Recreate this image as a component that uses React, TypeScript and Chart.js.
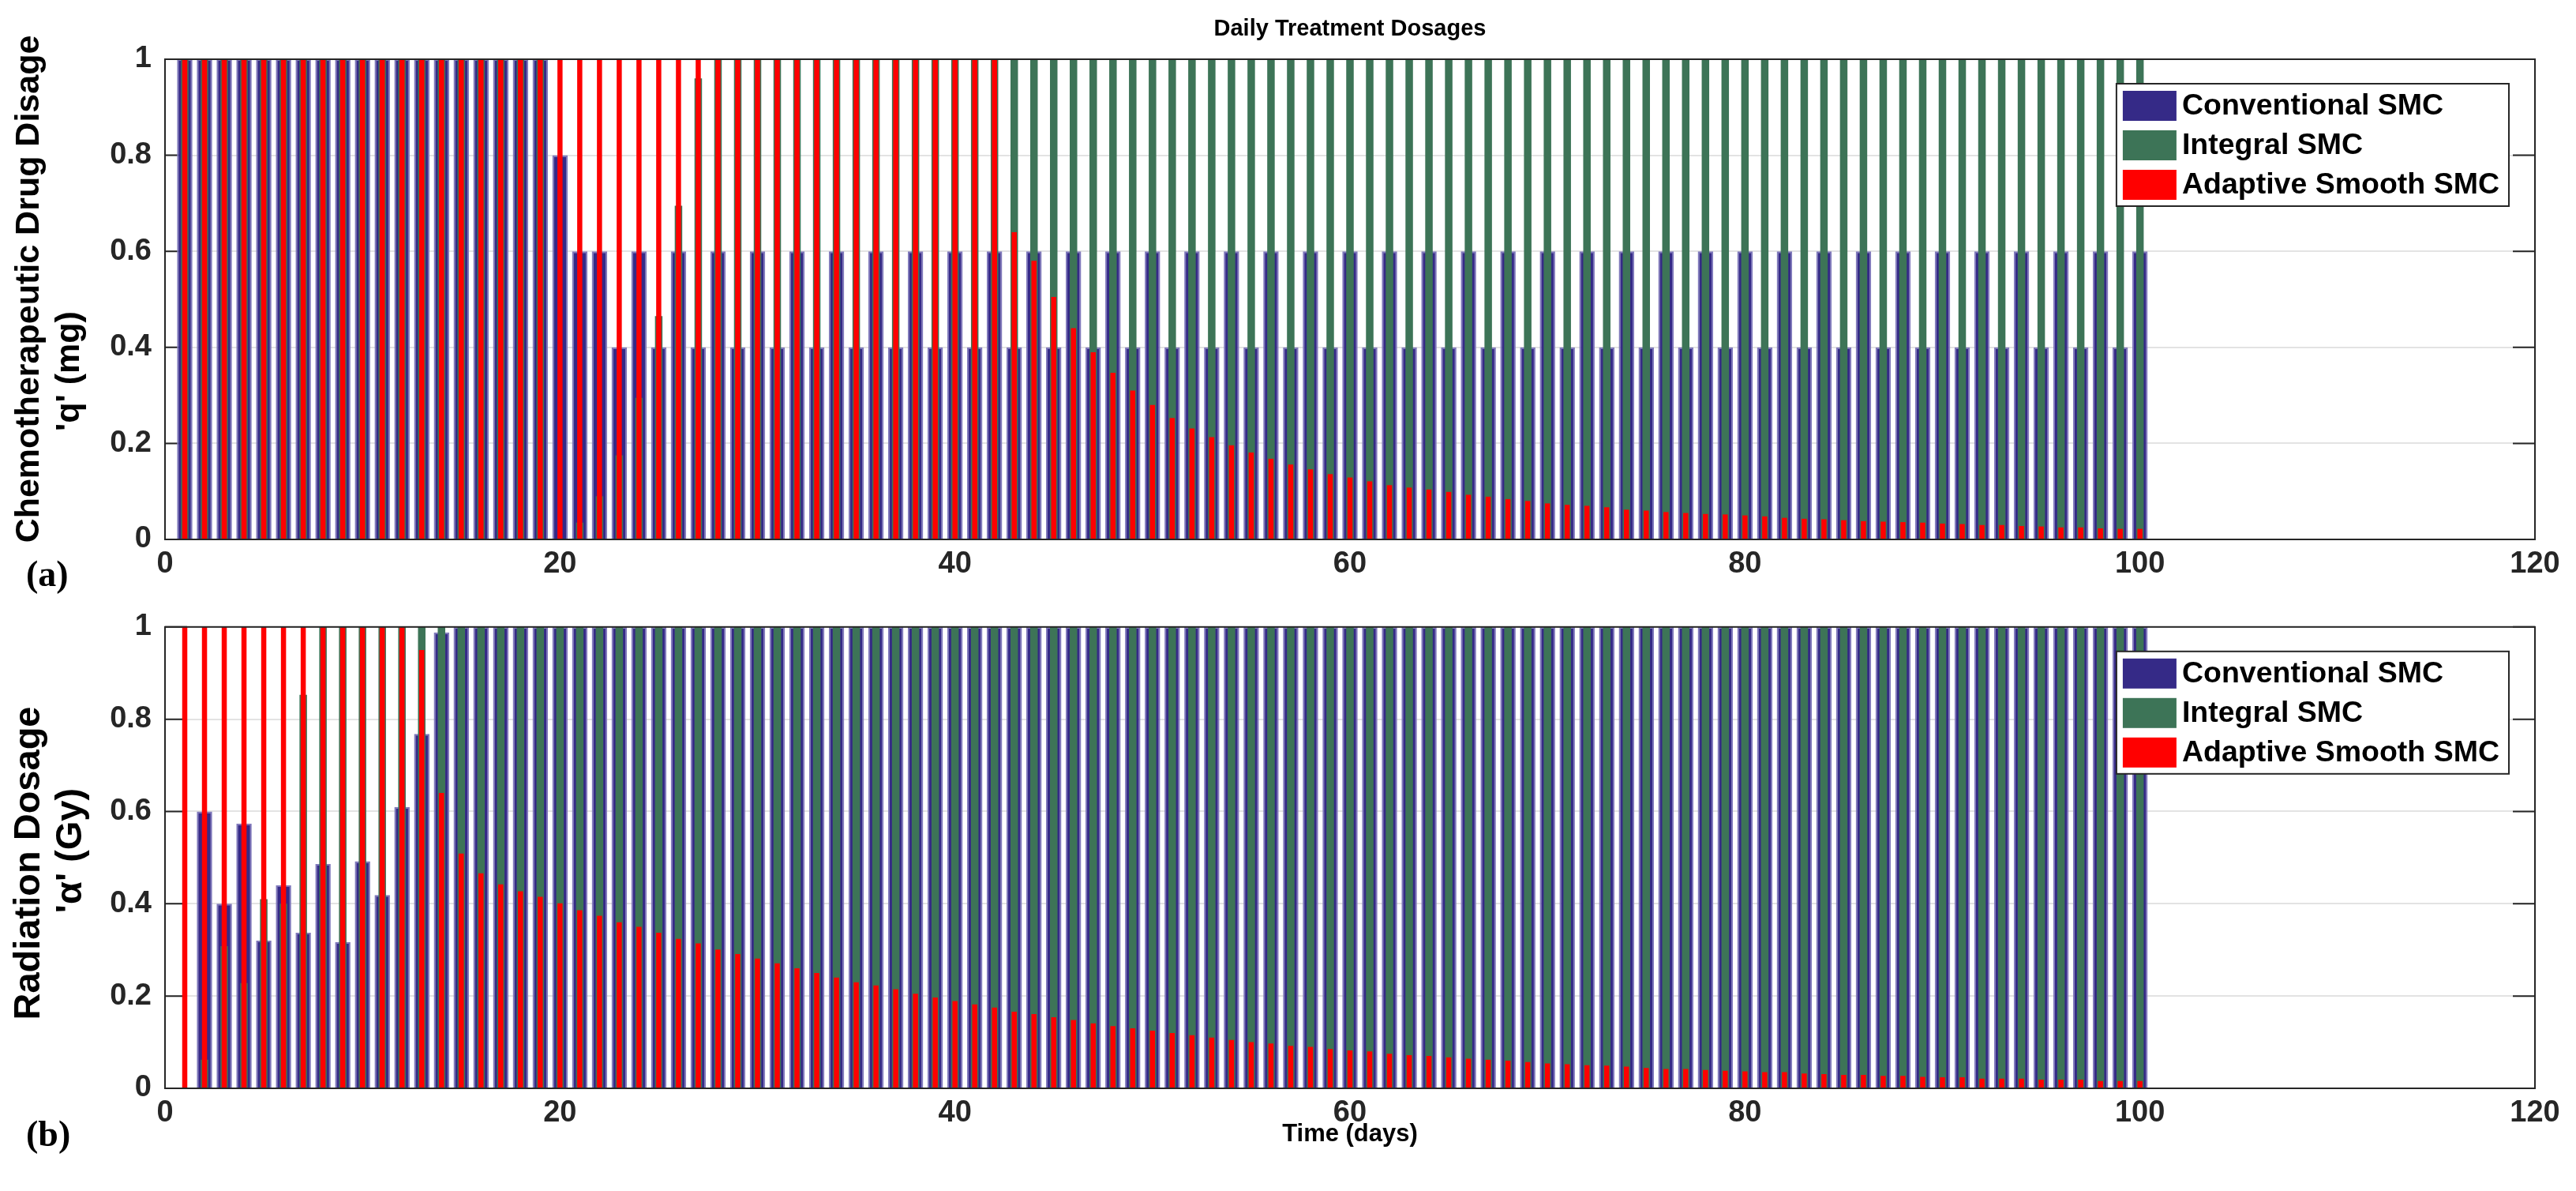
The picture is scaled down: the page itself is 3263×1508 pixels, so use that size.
import { useEffect, useRef } from "react"
import { Chart, registerables } from "chart.js"
import type { Plugin } from "chart.js"

Chart.register(...registerables)

const FONT = "'Liberation Sans', Arial, Helvetica, sans-serif"
const SERIF = "'Liberation Serif', 'Times New Roman', serif"
const AXIS_COLOR = "#262626"

const days = [
  1, 2, 3, 4, 5, 6, 7, 8, 9, 10,
  11, 12, 13, 14, 15, 16, 17, 18, 19, 20,
  21, 22, 23, 24, 25, 26, 27, 28, 29, 30,
  31, 32, 33, 34, 35, 36, 37, 38, 39, 40,
  41, 42, 43, 44, 45, 46, 47, 48, 49, 50,
  51, 52, 53, 54, 55, 56, 57, 58, 59, 60,
  61, 62, 63, 64, 65, 66, 67, 68, 69, 70,
  71, 72, 73, 74, 75, 76, 77, 78, 79, 80,
  81, 82, 83, 84, 85, 86, 87, 88, 89, 90,
  91, 92, 93, 94, 95, 96, 97, 98, 99, 100,
]

// (a) chemotherapeutic drug dosage q (mg), one value per day
const conventionalQ = [
  1, 1, 1, 1, 1, 1, 1, 1, 1, 1,
  1, 1, 1, 1, 1, 1, 1, 1, 1, 0.8,
  0.6, 0.6, 0.4, 0.6, 0.4, 0.6, 0.4, 0.6, 0.4, 0.6,
  0.4, 0.6, 0.4, 0.6, 0.4, 0.6, 0.4, 0.6, 0.4, 0.6,
  0.4, 0.6, 0.4, 0.6, 0.4, 0.6, 0.4, 0.6, 0.4, 0.6,
  0.4, 0.6, 0.4, 0.6, 0.4, 0.6, 0.4, 0.6, 0.4, 0.6,
  0.4, 0.6, 0.4, 0.6, 0.4, 0.6, 0.4, 0.6, 0.4, 0.6,
  0.4, 0.6, 0.4, 0.6, 0.4, 0.6, 0.4, 0.6, 0.4, 0.6,
  0.4, 0.6, 0.4, 0.6, 0.4, 0.6, 0.4, 0.6, 0.4, 0.6,
  0.4, 0.6, 0.4, 0.6, 0.4, 0.6, 0.4, 0.6, 0.4, 0.6,
]
const integralQ = [
  1, 1, 1, 1, 1, 1, 1, 1, 1, 1,
  1, 1, 1, 1, 1, 1, 1, 1, 1, 0,
  0.035, 0.09, 0.175, 0.295, 0.465, 0.695, 0.96, 1, 1, 1,
  1, 1, 1, 1, 1, 1, 1, 1, 1, 1,
  1, 1, 1, 1, 1, 1, 1, 1, 1, 1,
  1, 1, 1, 1, 1, 1, 1, 1, 1, 1,
  1, 1, 1, 1, 1, 1, 1, 1, 1, 1,
  1, 1, 1, 1, 1, 1, 1, 1, 1, 1,
  1, 1, 1, 1, 1, 1, 1, 1, 1, 1,
  1, 1, 1, 1, 1, 1, 1, 1, 1, 1,
]
const adaptiveQ = [
  1, 1, 1, 1, 1, 1, 1, 1, 1, 1,
  1, 1, 1, 1, 1, 1, 1, 1, 1, 1,
  1, 1, 1, 1, 1, 1, 1, 1, 1, 1,
  1, 1, 1, 1, 1, 1, 1, 1, 1, 1,
  1, 1, 0.64, 0.58, 0.505, 0.44, 0.39, 0.347, 0.31, 0.28,
  0.253, 0.231, 0.213, 0.196, 0.181, 0.168, 0.156, 0.146, 0.136, 0.129,
  0.121, 0.113, 0.108, 0.104, 0.099, 0.093, 0.089, 0.084, 0.08, 0.075,
  0.072, 0.07, 0.067, 0.062, 0.06, 0.057, 0.055, 0.053, 0.052, 0.05,
  0.048, 0.045, 0.043, 0.042, 0.04, 0.038, 0.037, 0.036, 0.035, 0.033,
  0.032, 0.03, 0.03, 0.028, 0.027, 0.025, 0.025, 0.023, 0.022, 0.022,
]

// (b) radiation dosage alpha (Gy), one value per day
const conventionalAlpha = [
  0, 0.6, 0.4, 0.574, 0.32, 0.44, 0.337, 0.486, 0.317, 0.492,
  0.419, 0.61, 0.768, 0.988, 1, 1, 1, 1, 1, 1,
  1, 1, 1, 1, 1, 1, 1, 1, 1, 1,
  1, 1, 1, 1, 1, 1, 1, 1, 1, 1,
  1, 1, 1, 1, 1, 1, 1, 1, 1, 1,
  1, 1, 1, 1, 1, 1, 1, 1, 1, 1,
  1, 1, 1, 1, 1, 1, 1, 1, 1, 1,
  1, 1, 1, 1, 1, 1, 1, 1, 1, 1,
  1, 1, 1, 1, 1, 1, 1, 1, 1, 1,
  1, 1, 1, 1, 1, 1, 1, 1, 1, 1,
]
const integralAlpha = [
  0, 0.062, 0.308, 0.228, 0.41, 0.4, 0.853, 1, 1, 1,
  1, 1, 1, 1, 1, 1, 1, 1, 1, 1,
  1, 1, 1, 1, 1, 1, 1, 1, 1, 1,
  1, 1, 1, 1, 1, 1, 1, 1, 1, 1,
  1, 1, 1, 1, 1, 1, 1, 1, 1, 1,
  1, 1, 1, 1, 1, 1, 1, 1, 1, 1,
  1, 1, 1, 1, 1, 1, 1, 1, 1, 1,
  1, 1, 1, 1, 1, 1, 1, 1, 1, 1,
  1, 1, 1, 1, 1, 1, 1, 1, 1, 1,
  1, 1, 1, 1, 1, 1, 1, 1, 1, 1,
]
const adaptiveAlpha = [
  1, 1, 1, 1, 1, 1, 1, 1, 1, 1,
  1, 1, 0.95, 0.64, 0.509, 0.466, 0.442, 0.427, 0.415, 0.401,
  0.386, 0.374, 0.36, 0.35, 0.337, 0.324, 0.314, 0.301, 0.291, 0.281,
  0.271, 0.26, 0.25, 0.24, 0.23, 0.223, 0.215, 0.205, 0.197, 0.189,
  0.182, 0.175, 0.166, 0.161, 0.154, 0.148, 0.141, 0.135, 0.13, 0.125,
  0.12, 0.115, 0.11, 0.105, 0.1, 0.097, 0.092, 0.09, 0.085, 0.082,
  0.08, 0.075, 0.072, 0.07, 0.067, 0.064, 0.062, 0.06, 0.057, 0.054,
  0.052, 0.05, 0.049, 0.047, 0.044, 0.042, 0.042, 0.04, 0.038, 0.037,
  0.035, 0.035, 0.032, 0.031, 0.029, 0.029, 0.027, 0.027, 0.025, 0.024,
  0.024, 0.021, 0.021, 0.021, 0.019, 0.019, 0.019, 0.016, 0.016, 0.016,
]

const seriesNames = ["Conventional SMC", "Integral SMC", "Adaptive Smooth SMC"]
const seriesColors = ["#352a87", "#3d7457", "#ff0000"]
const seriesEdges = ["#7f78bb", "#3d7457", "#ff0000"]
const edgeWidths = [2, 0, 0]
const barShare = [0.78, 0.38, 0.26] // share of one day taken by each bar
const drawOrder = [3, 2, 1] // red in front, blue at the back
const xTicks = [0, 20, 40, 60, 80, 100, 120]
const yTicks = [0, 0.2, 0.4, 0.6, 0.8, 1]

// MATLAB style: ticks pointing inward on all four sides, box drawn over the bars
const matlabAxes: Plugin<"bar"> = {
  id: "matlabAxes",
  beforeDatasetsDraw(chart) {
    const { ctx, chartArea: a, scales } = chart
    const len = 28
    ctx.save()
    ctx.strokeStyle = AXIS_COLOR
    ctx.lineWidth = 2
    ctx.beginPath()
    for (const t of scales.y.ticks) {
      const y = scales.y.getPixelForValue(t.value)
      ctx.moveTo(a.left, y)
      ctx.lineTo(a.left + len, y)
      ctx.moveTo(a.right, y)
      ctx.lineTo(a.right - len, y)
    }
    for (const t of scales.x.ticks) {
      const x = scales.x.getPixelForValue(t.value)
      ctx.moveTo(x, a.bottom)
      ctx.lineTo(x, a.bottom - len)
      ctx.moveTo(x, a.top)
      ctx.lineTo(x, a.top + len)
    }
    ctx.stroke()
    ctx.restore()
  },
  afterDatasetsDraw(chart) {
    const { ctx, chartArea: a } = chart
    ctx.save()
    ctx.strokeStyle = AXIS_COLOR
    ctx.lineWidth = 2
    ctx.strokeRect(a.left, a.top, a.right - a.left, a.bottom - a.top)
    ctx.restore()
  },
}

// legend box inside the plot, top right
const boxLegend: Plugin<"bar"> = {
  id: "boxLegend",
  afterDraw(chart) {
    const { ctx, chartArea: a } = chart
    const sets = chart.data.datasets
    ctx.save()
    ctx.font = `bold 37.5px ${FONT}`
    const textW = Math.max(...sets.map((d) => ctx.measureText(String(d.label)).width))
    const rowH = 50
    const w = 83 + textW + 12
    const h = rowH * sets.length + 5
    const x0 = a.right - 33 - w
    const y0 = a.top + 31
    ctx.fillStyle = "#fff"
    ctx.fillRect(x0, y0, w, h)
    ctx.strokeStyle = AXIS_COLOR
    ctx.lineWidth = 2
    ctx.strokeRect(x0, y0, w, h)
    ctx.textBaseline = "middle"
    sets.forEach((d, i) => {
      const cy = y0 + 28 + i * rowH
      ctx.fillStyle = d.backgroundColor as string
      ctx.fillRect(x0 + 8, cy - 19, 68, 38)
      ctx.fillStyle = "#000"
      ctx.fillText(String(d.label), x0 + 83, cy + 1)
    })
    ctx.restore()
  },
}

// title centred over the plot box (not over the whole canvas)
const areaTitle: Plugin<"bar"> = {
  id: "areaTitle",
  afterDraw(chart, _args, opts: any) {
    if (!opts.text) return
    const { ctx, chartArea: a } = chart
    ctx.save()
    ctx.font = `bold ${opts.size}px ${FONT}`
    ctx.fillStyle = "#000"
    ctx.textAlign = "center"
    ctx.textBaseline = "middle"
    ctx.fillText(opts.text, (a.left + a.right) / 2, opts.y)
    ctx.restore()
  },
}

// two-line rotated y label, lines placed separately as in the figure
const sideTitle: Plugin<"bar"> = {
  id: "sideTitle",
  afterDraw(chart, _args, opts: any) {
    const { ctx } = chart
    ctx.save()
    ctx.font = `bold ${opts.size}px ${FONT}`
    ctx.fillStyle = "#000"
    ctx.textAlign = "center"
    ctx.textBaseline = "middle"
    for (const line of opts.lines) {
      ctx.save()
      ctx.translate(line.x, line.y)
      ctx.rotate(-Math.PI / 2)
      ctx.fillText(line.text, 0, 0)
      ctx.restore()
    }
    ctx.restore()
  },
}

interface PanelProps {
  values: number[][]
  title?: string
  xTitle?: string
  yLines: { text: string; x: number; y: number }[]
  yTitleSize: number
  top: number
  height: number
  padTop: number
  xAxisHeight: number
}

function DosagePanel({ values, title, xTitle, yLines, yTitleSize, top, height, padTop, xAxisHeight }: PanelProps) {
  const canvasRef = useRef<HTMLCanvasElement>(null)

  useEffect(() => {
    if (!canvasRef.current) return
    const tickFont = { family: FONT, size: 38, weight: "bold" as const }

    const chart = new Chart(canvasRef.current, {
      type: "bar",
      data: {
        labels: days,
        datasets: values.map((v, i) => ({
          label: seriesNames[i],
          data: v,
          backgroundColor: seriesColors[i],
          borderColor: seriesEdges[i],
          borderWidth: edgeWidths[i],
          grouped: false,
          categoryPercentage: 1,
          barPercentage: barShare[i],
          order: drawOrder[i],
        })),
      },
      options: {
        animation: false,
        responsive: true,
        maintainAspectRatio: false,
        layout: { padding: { left: 0, right: 52, top: padTop, bottom: 0 } },
        plugins: {
          legend: { display: false },
          tooltip: { enabled: false },
          title: { display: false },
          areaTitle: { text: title, size: 29, y: 37 },
          sideTitle: { size: yTitleSize, lines: yLines },
        } as any,
        scales: {
          x: {
            type: "linear",
            min: 0,
            max: 120,
            offset: false,
            afterBuildTicks: (s) => {
              s.ticks = xTicks.map((value) => ({ value }))
            },
            afterFit: (s) => {
              s.height = xAxisHeight
            },
            grid: { display: false, drawTicks: false },
            border: { display: false },
            ticks: { color: AXIS_COLOR, font: tickFont, padding: 9, maxRotation: 0 },
            title: {
              display: !!xTitle,
              text: xTitle,
              color: "#000",
              font: { family: FONT, size: 31, weight: "bold" },
              padding: { top: 0, bottom: 53 },
            },
          },
          y: {
            min: 0,
            max: 1,
            afterBuildTicks: (s) => {
              s.ticks = yTicks.map((value) => ({ value }))
            },
            afterFit: (s) => {
              s.width = 209
            },
            grid: { color: "#e3e3e3", lineWidth: 2, drawTicks: false },
            border: { display: false },
            ticks: {
              color: AXIS_COLOR,
              font: tickFont,
              padding: 17,
              callback: (v) => String(Number(v)),
            },
          },
        },
      },
      plugins: [matlabAxes, boxLegend, areaTitle, sideTitle],
    })

    return () => chart.destroy()
  }, [values, title, xTitle, yLines, yTitleSize, padTop, xAxisHeight])

  return (
    <div style={{ position: "absolute", left: 0, top, width: 3263, height }}>
      <canvas ref={canvasRef} />
    </div>
  )
}

const panelLetter = {
  position: "absolute" as const,
  left: 33,
  font: `bold 46px ${SERIF}`,
  lineHeight: "50px",
  color: "#000",
}

export default function App() {
  return (
    <div style={{ position: "absolute", left: 0, top: 0, width: 3263, height: 1508, background: "#fff", overflow: "hidden" }}>
      <DosagePanel
        values={[conventionalQ, integralQ, adaptiveQ]}
        title="Daily Treatment Dosages"
        yLines={[
          { text: "Chemotherapeutic Drug Disage", x: 37, y: 366 },
          { text: "'q' (mg)", x: 88, y: 470 },
        ]}
        yTitleSize={43}
        top={0}
        height={754}
        padTop={75}
        xAxisHeight={71}
      />
      <DosagePanel
        values={[conventionalAlpha, integralAlpha, adaptiveAlpha]}
        xTitle="Time (days)"
        yLines={[
          { text: "Radiation Dosage", x: 37, y: 339 },
          { text: "'α' (Gy)", x: 90, y: 323 },
        ]}
        yTitleSize={47}
        top={754}
        height={754}
        padTop={33}
        xAxisHeight={130}
      />
      <span style={{ ...panelLetter, top: 702 }}>(a)</span>
      <span style={{ ...panelLetter, top: 1411 }}>(b)</span>
    </div>
  )
}
